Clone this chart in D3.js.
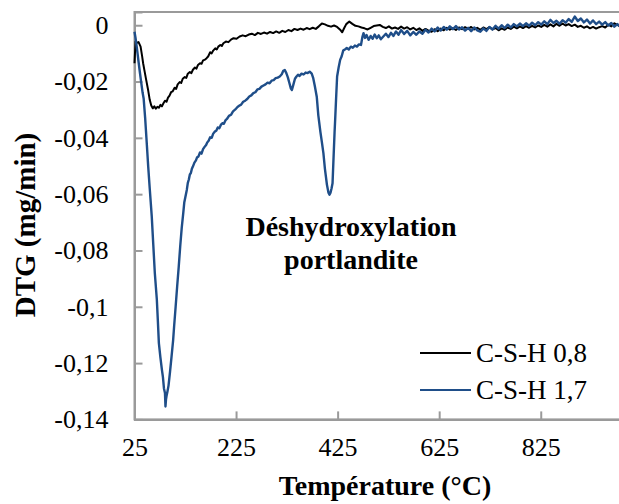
<!DOCTYPE html>
<html><head><meta charset="utf-8">
<script src="https://cdn.jsdelivr.net/npm/d3@7"></script>
<style>html,body{margin:0;padding:0;background:#fff;}svg{display:block;}</style>
</head><body><svg id="c" width="619" height="504"></svg>
<script>
const seriesNames = ["C-S-H 0,8", "C-S-H 1,7"];
const seriesColors = ["#000000", "#1f4e89"];
const xTicks = [25, 225, 425, 625, 825];
const yTicks = [0, -0.02, -0.04, -0.06, -0.08, -0.1, -0.12, -0.14];
const yTickLabels = ["0", "-0,02", "-0,04", "-0,06", "-0,08", "-0,1", "-0,12", "-0,14"];
const xTitle = "Température (°C)";
const yTitle = "DTG (mg/min)";
const annotation = ["Déshydroxylation", "portlandite"];

const tempCSH08 = [25,27,30,33,37,40,42,45,48,52,55,58,61,64,67,70,73,76,79,82,85,88,91,94,97,100,104,107,110,114,117,120,124,127,130,134,137,140,144,147,150,154,157,160,164,167,170,174,177,180,184,187,190,194,197,200,205,210,215,220,226,232,238,244,250,256,262,268,274,280,286,292,298,304,310,316,322,328,334,340,346,352,358,364,370,376,382,388,394,400,406,412,418,424,430,434,438,442,448,454,460,466,472,478,484,490,496,502,508,514,520,526,532,538,544,550,556,562,568,574,580,586,592,598,604,610,616,622,628,634,640,646,652,658,664,670,676,682,688,694,700,706,712,718,724,730,736,742,748,754,760,766,772,778,784,790,796,802,808,814,820,826,832,838,844,850,856,862,868,874,880,886,892,898,904,910,916,922,928,934,940,946,952,958,964,970,976,982,988,994,1000];
const dtgCSH08 = [-0.0135,-0.0058,-0.0062,-0.0060,-0.0076,-0.0110,-0.0135,-0.0165,-0.0194,-0.0232,-0.0265,-0.0285,-0.0295,-0.0288,-0.0296,-0.0290,-0.0293,-0.0283,-0.0288,-0.0277,-0.0268,-0.0272,-0.0257,-0.0250,-0.0238,-0.0235,-0.0222,-0.0226,-0.0210,-0.0202,-0.0205,-0.0190,-0.0184,-0.0187,-0.0172,-0.0166,-0.0170,-0.0158,-0.0150,-0.0154,-0.0141,-0.0135,-0.0137,-0.0125,-0.0122,-0.0117,-0.0111,-0.0096,-0.0100,-0.0090,-0.0082,-0.0086,-0.0076,-0.0070,-0.0074,-0.0064,-0.0058,-0.0060,-0.0051,-0.0046,-0.0048,-0.0040,-0.0036,-0.0039,-0.0033,-0.0030,-0.0035,-0.0027,-0.0031,-0.0026,-0.0030,-0.0024,-0.0028,-0.0022,-0.0027,-0.0020,-0.0024,-0.0017,-0.0021,-0.0013,-0.0017,-0.0012,-0.0016,-0.0010,-0.0014,-0.0009,-0.0013,-0.0004,0.0006,0.0003,-0.0002,-0.0005,-0.0001,-0.0006,-0.0016,-0.0025,-0.0010,0.0004,0.0013,0.0005,-0.0002,-0.0004,-0.0008,-0.0011,-0.0015,-0.0009,-0.0003,-0.0001,0.0001,-0.0006,-0.0010,-0.0004,-0.0012,-0.0008,-0.0013,-0.0005,-0.0012,-0.0007,-0.0015,-0.0009,-0.0017,-0.0011,-0.0020,-0.0013,-0.0019,-0.0023,-0.0014,-0.0021,-0.0012,-0.0018,-0.0009,-0.0016,-0.0010,-0.0017,-0.0008,-0.0014,-0.0007,-0.0013,-0.0006,-0.0015,-0.0009,-0.0016,-0.0008,-0.0014,-0.0007,-0.0015,-0.0010,-0.0018,-0.0011,-0.0016,-0.0008,-0.0013,-0.0005,-0.0011,-0.0004,-0.0010,-0.0003,-0.0009,-0.0002,-0.0008,-0.0001,-0.0006,0.0001,-0.0005,0.0003,-0.0004,0.0005,-0.0002,0.0006,-0.0001,0.0004,-0.0003,0.0002,-0.0006,-0.0002,-0.0009,-0.0004,-0.0011,-0.0006,-0.0012,-0.0007,-0.0003,-0.0008,0.0002,-0.0004,0.0007,0.0001,-0.0005,0.0000,-0.0006,-0.0002];

const tempCSH17 = [25,27,29,31,33,35,38,41,43,46,49,52,55,59,62,65,69,71,73,76,79,81,83,85,86,87,88,90,92,95,98,101,103,106,109,112,115,118,121,123,125,128,130,132,134,136,138,140,143,146,148,151,154,157,160,163,166,168,171,174,177,180,183,186,189,192,195,198,201,204,207,211,215,219,223,227,231,235,239,243,247,251,255,259,263,267,271,275,279,283,287,291,295,299,303,307,311,315,318,321,324,327,330,333,335,338,341,344,347,350,354,358,362,366,370,374,377,380,384,387,391,394,397,400,404,407,409,411,413,415,417,419,420,422,424,427,430,433,436,440,443,447,451,455,459,463,467,471,474,476,479,482,486,490,494,498,502,506,510,515,520,525,530,535,540,545,550,556,562,568,574,580,586,592,598,604,610,616,622,628,634,640,646,652,658,664,670,676,682,688,694,700,706,712,718,724,730,736,742,748,754,760,766,772,778,784,790,796,802,808,814,820,826,832,838,844,850,856,862,868,874,880,886,892,898,904,910,916,922,928,934,940,946,952,958,964,970,976,982,988,994,1000];
const dtgCSH17 = [-0.0023,-0.0045,-0.0072,-0.0100,-0.0130,-0.0159,-0.0200,-0.0240,-0.0260,-0.0330,-0.0415,-0.0502,-0.0580,-0.0680,-0.0780,-0.0880,-0.0975,-0.1050,-0.1129,-0.1180,-0.1224,-0.1250,-0.1290,-0.1306,-0.1354,-0.1330,-0.1318,-0.1300,-0.1280,-0.1230,-0.1176,-0.1120,-0.1070,-0.1000,-0.0928,-0.0860,-0.0786,-0.0720,-0.0667,-0.0630,-0.0612,-0.0585,-0.0560,-0.0548,-0.0530,-0.0525,-0.0510,-0.0502,-0.0488,-0.0480,-0.0470,-0.0466,-0.0452,-0.0456,-0.0440,-0.0432,-0.0425,-0.0417,-0.0410,-0.0398,-0.0400,-0.0385,-0.0378,-0.0375,-0.0363,-0.0366,-0.0354,-0.0348,-0.0350,-0.0338,-0.0333,-0.0322,-0.0318,-0.0306,-0.0300,-0.0292,-0.0286,-0.0282,-0.0272,-0.0268,-0.0262,-0.0253,-0.0249,-0.0241,-0.0238,-0.0228,-0.0226,-0.0218,-0.0214,-0.0210,-0.0204,-0.0206,-0.0197,-0.0195,-0.0188,-0.0186,-0.0182,-0.0174,-0.0162,-0.0159,-0.0170,-0.0185,-0.0205,-0.0225,-0.0230,-0.0210,-0.0190,-0.0182,-0.0176,-0.0180,-0.0172,-0.0175,-0.0168,-0.0170,-0.0165,-0.0172,-0.0188,-0.0215,-0.0255,-0.0320,-0.0378,-0.0415,-0.0454,-0.0510,-0.0567,-0.0595,-0.0602,-0.0595,-0.0580,-0.0561,-0.0470,-0.0380,-0.0342,-0.0260,-0.0182,-0.0150,-0.0123,-0.0110,-0.0090,-0.0085,-0.0081,-0.0086,-0.0076,-0.0080,-0.0072,-0.0076,-0.0068,-0.0070,-0.0040,-0.0028,-0.0045,-0.0035,-0.0052,-0.0038,-0.0048,-0.0033,-0.0046,-0.0036,-0.0050,-0.0040,-0.0030,-0.0042,-0.0027,-0.0038,-0.0022,-0.0034,-0.0017,-0.0031,-0.0020,-0.0036,-0.0024,-0.0034,-0.0022,-0.0030,-0.0016,-0.0026,-0.0012,-0.0022,-0.0008,-0.0019,-0.0006,-0.0016,-0.0004,-0.0014,-0.0003,-0.0015,-0.0007,-0.0019,-0.0009,-0.0021,-0.0008,-0.0018,-0.0023,-0.0011,-0.0020,-0.0006,-0.0015,-0.0002,-0.0012,0.0000,-0.0010,0.0002,-0.0008,0.0004,-0.0004,0.0006,-0.0003,0.0007,-0.0002,0.0009,0.0000,0.0011,0.0002,0.0014,0.0004,0.0019,0.0008,0.0016,0.0005,0.0018,0.0009,0.0022,0.0012,0.0031,0.0015,0.0024,0.0010,0.0020,0.0006,0.0017,0.0004,0.0013,0.0002,0.0011,-0.0001,0.0008,-0.0005,0.0004,-0.0006,0.0003,-0.0004,0.0001];

const svg = d3.select("#c");
const X0 = 134.5, Y0 = 12, Y1 = 419.4;
const x = d3.scaleLinear().domain([25, 1025]).range([X0, 642.3]);
const y = d3.scaleLinear().domain([-0.14, 0.0047]).range([Y1, Y0]);
const axisColor = "#9a9a9a";
const serif = "'Liberation Serif', 'Times New Roman', serif";

// plot frame
svg.append("rect").attr("x", X0).attr("y", Y0)
  .attr("width", x.range()[1] - X0).attr("height", Y1 - Y0)
  .attr("fill", "none").attr("stroke", axisColor).attr("stroke-width", 2);

// y axis
const yAxis = d3.axisLeft(y).tickValues(yTicks).tickSize(-8).tickFormat((d, i) => yTickLabels[i]).tickPadding(26);
const gy = svg.append("g").attr("transform", `translate(${X0},0)`).call(yAxis);
gy.select(".domain").attr("stroke", axisColor).attr("stroke-width", 2);
gy.selectAll(".tick line").attr("stroke", axisColor).attr("stroke-width", 2);
gy.selectAll(".tick text").attr("font-family", serif).attr("font-size", 26).attr("fill", "#000");

// x axis
const xAxis = d3.axisBottom(x).tickValues(xTicks).tickSize(-8).tickFormat(d3.format("d")).tickPadding(18);
const gx = svg.append("g").attr("transform", `translate(0,${Y1})`).call(xAxis);
gx.select(".domain").attr("stroke", axisColor).attr("stroke-width", 2);
gx.selectAll(".tick line").attr("stroke", axisColor).attr("stroke-width", 2);
gx.selectAll(".tick text").attr("font-family", serif).attr("font-size", 26).attr("fill", "#000");

// lines
const series = [
  {name: seriesNames[0], color: seriesColors[0], t: tempCSH08, v: dtgCSH08, w: 2},
  {name: seriesNames[1], color: seriesColors[1], t: tempCSH17, v: dtgCSH17, w: 2.4}
];
const line = d3.line().x(d => x(d[0])).y(d => y(d[1]));
series.forEach(s => {
  svg.append("path").datum(s.t.map((t, i) => [t, s.v[i]]))
    .attr("d", line).attr("fill", "none").attr("stroke", s.color)
    .attr("stroke-width", s.w).attr("stroke-linejoin", "round");
});

// titles
svg.append("text").attr("x", 385).attr("y", 495).attr("text-anchor", "middle")
  .attr("font-family", serif).attr("font-weight", "bold").attr("font-size", 28).text(xTitle);
svg.append("text").attr("transform", "translate(35,225) rotate(-90)").attr("text-anchor", "middle")
  .attr("font-family", serif).attr("font-weight", "bold").attr("font-size", 29).text(yTitle);

// annotation
annotation.forEach((a, i) => {
  svg.append("text").attr("x", 351).attr("y", 236 + i * 33).attr("text-anchor", "middle")
    .attr("font-family", serif).attr("font-weight", "bold").attr("font-size", 28).text(a);
});

// legend
series.forEach((s, i) => {
  const ly = 353 + i * 37;
  svg.append("line").attr("x1", 420).attr("x2", 471).attr("y1", ly).attr("y2", ly)
    .attr("stroke", s.color).attr("stroke-width", 2);
  svg.append("text").attr("x", 476).attr("y", ly + 9).attr("font-family", serif)
    .attr("font-size", 27).attr("fill", "#000").text(s.name);
});
</script></body></html>
